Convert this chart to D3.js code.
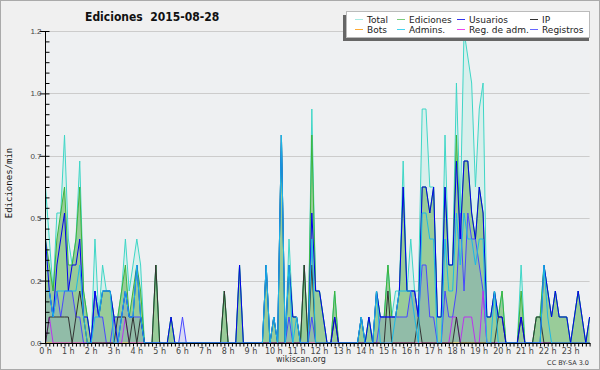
<!DOCTYPE html>
<html>
<head>
<meta charset="utf-8">
<script src="https://cdn.jsdelivr.net/npm/d3@7"></script>
<style>
  body { margin: 0; background: #f0f0f0; }
  svg { display: block; font-family: "DejaVu Sans", sans-serif; }
  .axis-label { font-size: 8px; fill: #444; }
  .legend-text { font-size: 9px; fill: #222; }
</style>
</head>
<body>
<div id="chart"></div>
<script>
// 10-minute bins, 144 per day; values are edits per minute
const hourLabels = ["0 h", "1 h", "2 h", "3 h", "4 h", "5 h", "6 h", "7 h", "8 h", "9 h", "10 h", "11 h",
  "12 h", "13 h", "14 h", "15 h", "16 h", "17 h", "18 h", "19 h", "20 h", "21 h", "22 h", "23 h"];
const yTicks = [0, 0.24, 0.48, 0.72, 0.96, 1.2];

const total = [
  .6, .4, .2, .5, .5, .8, .4, .3, .4, .7, .2, .1,
  0, .4, .1, .3, .2, .2, .1, .1, .2, .4, .2, .3,
  .4, .3, 0, 0, 0, .3, 0, 0, 0, .1, 0, 0,
  0, 0, 0, 0, 0, 0, 0, 0, 0, 0, 0, .2,
  0, 0, 0, .3, 0, 0, 0, 0, 0, 0, .3, 0,
  .1, 0, .8, 0, .4, .1, .1, 0, .3, 0, .9, .2,
  .2, .1, 0, 0, .2, 0, 0, 0, 0, 0, 0, .1,
  0, .1, 0, .2, .1, .1, .3, .1, .2, .2, .7, .2,
  .4, .2, .2, .9, .9, .6, .6, .1, .1, .8, .3, .3,
  1.0, .5, 1.2, 1.1, 1.0, .6, .9, 1.0, .1, .1, .2, .1,
  .2, 0, 0, 0, 0, .3, 0, 0, 0, .1, .1, .3,
  .2, .1, .2, .1, .1, .1, 0, .1, .2, .1, 0, .1
];
const ediciones = [
  .4, .3, .2, .4, .5, .6, .3, .3, .4, .6, .2, .1,
  0, .2, .1, .2, .2, .2, .1, .1, .2, .3, .1, .2,
  .3, .2, 0, 0, 0, .3, 0, 0, 0, .1, 0, 0,
  0, 0, 0, 0, 0, 0, 0, 0, 0, 0, 0, .2,
  0, 0, 0, .3, 0, 0, 0, 0, 0, 0, .3, 0,
  .1, 0, .8, 0, .3, .1, .1, 0, .3, 0, .8, .2,
  .2, .1, 0, 0, .2, 0, 0, 0, 0, 0, 0, .1,
  0, .1, 0, .2, .1, .1, .3, .1, .1, .2, .6, .2,
  .2, .2, .1, .6, .6, .5, .6, .1, .1, .6, .3, .3,
  .8, .4, .7, .7, .5, .4, .6, .5, .1, .1, .2, .1,
  .2, 0, 0, 0, 0, .2, 0, 0, 0, .1, .1, .3,
  .2, .1, .2, .1, .1, .1, 0, .1, .2, .1, 0, .1
];
const usuarios = [
  .4, .2, .1, .3, .4, .5, .2, .3, .3, .4, .1, .1,
  0, .2, .1, .2, .2, .2, .1, 0, .1, .2, .1, .1,
  .3, .1, 0, 0, 0, 0, 0, 0, 0, .1, 0, 0,
  0, 0, 0, 0, 0, 0, 0, 0, 0, 0, 0, 0,
  0, 0, 0, .3, 0, 0, 0, 0, 0, 0, .3, 0,
  .1, 0, .8, 0, .3, .1, .1, 0, 0, 0, .5, .2,
  .2, .1, 0, 0, .1, 0, 0, 0, 0, 0, 0, .1,
  0, .1, 0, .2, .1, .1, .1, .1, .1, .2, .6, .2,
  .2, .2, .1, .6, .6, .5, .6, .1, .1, .6, .3, .3,
  .7, .4, .7, .7, .5, .4, .6, .5, .1, .1, .2, .1,
  .1, 0, 0, 0, 0, .1, 0, 0, 0, 0, 0, .3,
  .2, .1, .2, .1, .1, .1, 0, .1, .2, .1, 0, .1
];
const ip = [
  0, .1, .1, .1, .1, .1, .1, 0, .1, .2, .1, 0,
  0, 0, 0, 0, 0, 0, 0, .1, .1, .1, 0, .1,
  0, .1, 0, 0, 0, .3, 0, 0, 0, 0, 0, 0,
  0, 0, 0, 0, 0, 0, 0, 0, 0, 0, 0, .2,
  0, 0, 0, 0, 0, 0, 0, 0, 0, 0, 0, 0,
  0, 0, 0, 0, 0, 0, 0, 0, .3, 0, .3, 0,
  0, 0, 0, 0, .1, 0, 0, 0, 0, 0, 0, 0,
  0, 0, 0, 0, 0, 0, .2, 0, 0, 0, 0, 0,
  0, 0, .1, 0, 0, 0, 0, 0, 0, 0, 0, 0,
  .1, 0, 0, 0, 0, 0, 0, 0, 0, 0, 0, .1,
  .1, 0, 0, 0, 0, .1, 0, 0, 0, .1, .1, 0,
  0, 0, 0, 0, 0, 0, 0, 0, 0, 0, 0, 0
];
const bots = Array(144).fill(0); // no bot edits that day
const admins = [
  .2, .2, .1, .2, .2, .2, .2, .2, .2, .3, .1, 0,
  0, .1, .1, .2, .2, .2, 0, 0, .1, .2, .1, .1,
  .3, .1, 0, 0, 0, 0, 0, 0, 0, 0, 0, 0,
  0, 0, 0, 0, 0, 0, 0, 0, 0, 0, 0, 0,
  0, 0, 0, 0, 0, 0, 0, 0, 0, 0, .3, 0,
  .1, 0, .8, 0, .3, 0, .1, 0, 0, 0, .4, 0,
  0, 0, 0, 0, 0, 0, 0, 0, 0, 0, 0, .1,
  0, 0, 0, .2, 0, 0, 0, 0, .1, .2, .2, .2,
  .2, .1, 0, .5, .5, .4, .4, 0, 0, .4, .2, .2,
  .5, .3, .5, .4, .4, .3, .4, .4, 0, 0, .2, 0,
  0, 0, 0, 0, 0, 0, 0, 0, 0, 0, 0, .3,
  .1, 0, 0, 0, 0, 0, 0, 0, 0, 0, 0, 0
];
const regAdm = [
  0, .1, 0, 0, 0, 0, 0, 0, 0, 0, 0, 0,
  0, 0, 0, 0, 0, 0, 0, 0, 0, .1, 0, 0,
  0, 0, 0, 0, 0, 0, 0, 0, 0, 0, 0, 0,
  0, 0, 0, 0, 0, 0, 0, 0, 0, 0, 0, 0,
  0, 0, 0, 0, 0, 0, 0, 0, 0, 0, 0, 0,
  0, 0, 0, 0, 0, 0, 0, 0, 0, 0, 0, 0,
  0, 0, 0, 0, 0, 0, 0, 0, 0, 0, 0, 0,
  0, 0, 0, 0, 0, 0, 0, 0, 0, 0, 0, 0,
  0, 0, 0, 0, 0, 0, 0, 0, 0, 0, 0, .1,
  .1, 0, .1, .1, .1, 0, 0, .2, 0, 0, 0, 0,
  0, 0, 0, 0, 0, 0, 0, 0, 0, 0, 0, 0,
  0, 0, 0, 0, 0, 0, 0, 0, 0, 0, 0, 0
];
const registros = [
  .2, .2, .1, .2, .1, .2, .2, .2, .1, .1, 0, 0,
  0, .2, .1, .1, 0, 0, .1, .1, .1, .2, .1, .1,
  .1, .1, 0, 0, 0, 0, 0, 0, 0, 0, 0, 0,
  .1, 0, 0, 0, 0, 0, 0, 0, 0, 0, 0, 0,
  0, 0, 0, 0, 0, 0, 0, 0, 0, 0, 0, 0,
  0, 0, 0, 0, .1, 0, 0, 0, 0, 0, .1, 0,
  0, 0, 0, 0, 0, 0, 0, 0, 0, 0, 0, 0,
  0, 0, 0, 0, .1, .1, .1, .1, .1, .1, .1, .1,
  .2, .2, .1, .3, .3, .1, .1, 0, 0, .2, .1, .1,
  .2, .5, .2, .5, .4, .4, .3, .2, 0, 0, 0, 0,
  0, 0, 0, 0, 0, 0, 0, 0, 0, 0, 0, 0,
  0, 0, 0, 0, 0, 0, 0, 0, 0, 0, 0, 0
];

class EditsChart {

  constructor(_config) {
    this.config = {
      parentElement: _config.parentElement,
      containerWidth: 600,
      containerHeight: 370,
      plot: {left: 45.5, right: 589.6, top: 31, bottom: 343}
    };
    // drawing order: areas first, then lines
    this.series = [
      {name: 'Total', values: total, color: '#3ed6c6', legend: '#a6eae2', fill: '#c6efe8', fillOpacity: 0.55},
      {name: 'Ediciones', values: ediciones, color: '#3cb43c', legend: '#7ccc7c', fill: '#99cc99', fillOpacity: 1},
      {name: 'Usuarios', values: usuarios, color: '#0000ee', legend: '#3333ee'},
      {name: 'IP', values: ip, color: '#333333', legend: '#333333'},
      {name: 'Bots', values: bots, color: '#ffaa33', legend: '#ffaa33'},
      {name: 'Admins.', values: admins, color: '#1cb8e6', legend: '#44d4ee'},
      {name: 'Reg. de adm.', values: regAdm, color: '#bb33ee', legend: '#ee44ee'},
      {name: 'Registros', values: registros, color: '#4848ff', legend: '#6666ff', fill: '#6666ff', fillOpacity: 0.15}
    ];
    this.initVis();
  }

  initVis() {
    let vis = this;
    const p = vis.config.plot;

    vis.xScale = d3.scaleLinear().domain([0, 143]).range([p.left, p.right]);
    vis.yScale = d3.scaleLinear().domain([0, 1.2]).range([p.bottom, p.top]);

    vis.svg = d3.select(vis.config.parentElement).append('svg')
        .attr('width', vis.config.containerWidth)
        .attr('height', vis.config.containerHeight);

    // page background and frame
    vis.svg.append('rect')
        .attr('x', 0.5).attr('y', 0.5)
        .attr('width', vis.config.containerWidth - 1)
        .attr('height', vis.config.containerHeight - 1)
        .attr('fill', '#f0f0f0')
        .attr('stroke', '#aaa');

    vis.svg.append('rect')
        .attr('x', p.left).attr('y', p.top)
        .attr('width', p.right - p.left).attr('height', p.bottom - p.top)
        .attr('fill', '#eef0f2');

    vis.svg.append('clipPath').attr('id', 'plot-clip')
      .append('rect')
        .attr('x', p.left).attr('y', p.top - 1)
        .attr('width', p.right - p.left + 1).attr('height', p.bottom - p.top + 1);

    // horizontal grid
    vis.svg.append('g')
        .selectAll('line')
        .data(yTicks.filter(d => d > 0))
        .join('line')
        .attr('x1', p.left).attr('x2', p.right)
        .attr('y1', d => Math.round(vis.yScale(d)) + 0.5)
        .attr('y2', d => Math.round(vis.yScale(d)) + 0.5)
        .attr('stroke', '#cccccc');

    vis.chart = vis.svg.append('g').attr('clip-path', 'url(#plot-clip)');

    vis.renderVis();
  }

  renderVis() {
    let vis = this;
    const p = vis.config.plot;

    const area = d3.area()
        .x((d, i) => vis.xScale(i))
        .y0(vis.yScale(0))
        .y1(d => vis.yScale(d));
    const line = d3.line()
        .x((d, i) => vis.xScale(i))
        .y(d => vis.yScale(d));

    vis.chart.selectAll('.area')
        .data(vis.series.filter(s => s.fill))
        .join('path')
        .attr('class', 'area')
        .attr('d', s => area(s.values))
        .attr('fill', s => s.fill)
        .attr('fill-opacity', s => s.fillOpacity);

    const lineOrder = ['Total', 'Ediciones', 'Bots', 'Registros', 'Reg. de adm.', 'IP', 'Usuarios', 'Admins.'];
    vis.chart.selectAll('.line')
        .data(lineOrder.map(n => vis.series.find(s => s.name === n)))
        .join('path')
        .attr('class', 'line')
        .attr('d', s => line(s.values))
        .attr('fill', 'none')
        .attr('stroke', s => s.color)
        .attr('stroke-width', 1)
        .attr('stroke-linejoin', 'round');

    // y axis: major ticks to the left, minor ticks to the right
    const yAxis = d3.axisLeft(vis.yScale)
        .tickValues(yTicks)
        .tickSize(6)
        .tickPadding(-2)
        .tickFormat(d3.format('.1f'));
    const yAxisG = vis.svg.append('g')
        .attr('transform', `translate(${p.left},0)`)
        .call(yAxis);
    yAxisG.select('.domain').remove();
    yAxisG.selectAll('line').attr('stroke', '#000');
    yAxisG.selectAll('text').attr('class', 'axis-label');

    const yMinor = d3.axisRight(vis.yScale)
        .tickValues(d3.range(0, 1.2001, 0.04))
        .tickSize(4)
        .tickFormat('');
    const yMinorG = vis.svg.append('g')
        .attr('transform', `translate(${p.left},0)`)
        .call(yMinor);
    yMinorG.select('.domain').remove();
    yMinorG.selectAll('line').attr('stroke', '#000');

    vis.svg.append('line')
        .attr('x1', p.left).attr('x2', p.left)
        .attr('y1', p.top).attr('y2', p.bottom + 1)
        .attr('stroke', '#000');

    // x axis: a tick per 10-minute bin, labels on the hours
    const xAxis = d3.axisBottom(vis.xScale)
        .tickValues(d3.range(0, 144))
        .tickSize(3)
        .tickFormat('');
    const xAxisG = vis.svg.append('g')
        .attr('transform', `translate(0,${p.bottom + 0.5})`)
        .call(xAxis);
    xAxisG.select('.domain').remove();
    xAxisG.selectAll('line').attr('stroke', '#000');

    vis.svg.append('line')
        .attr('x1', p.left).attr('x2', p.right + 1)
        .attr('y1', p.bottom + 0.5).attr('y2', p.bottom + 0.5)
        .attr('stroke', '#000');

    vis.svg.append('g')
        .selectAll('text')
        .data(hourLabels)
        .join('text')
        .attr('class', 'axis-label')
        .attr('x', (d, i) => vis.xScale(i * 6))
        .attr('y', 354)
        .attr('text-anchor', 'middle')
        .text(d => d);

    // titles
    vis.svg.append('text')
        .attr('x', 85).attr('y', 21)
        .style('font-family', '"DejaVu Sans Condensed", "DejaVu Sans", sans-serif')
        .style('font-weight', 'bold')
        .style('font-stretch', 'condensed')
        .style('font-size', '12px')
        .attr('fill', '#111')
        .attr('xml:space', 'preserve')
        .text('Ediciones  2015-08-28');

    vis.svg.append('text')
        .attr('transform', 'translate(12,183) rotate(-90)')
        .attr('text-anchor', 'middle')
        .style('font-family', '"DejaVu Sans Mono", monospace')
        .style('font-size', '9px')
        .attr('fill', '#111')
        .text('Ediciones/min');

    vis.svg.append('text')
        .attr('x', 301).attr('y', 362)
        .attr('text-anchor', 'middle')
        .style('font-size', '8px')
        .attr('fill', '#333')
        .text('wikiscan.org');

    vis.svg.append('text')
        .attr('x', 589).attr('y', 365)
        .attr('text-anchor', 'end')
        .style('font-size', '6.5px')
        .attr('fill', '#333')
        .text('CC BY-SA 3.0');

    vis.renderLegend();
  }

  renderLegend() {
    let vis = this;
    const legendOrder = ['Total', 'Ediciones', 'Usuarios', 'IP', 'Bots', 'Admins.', 'Reg. de adm.', 'Registros'];
    const colX = [355, 397, 457, 530];
    const rowY = [19.5, 29.5];

    const g = vis.svg.append('g');
    g.append('rect')
        .attr('x', 343).attr('y', 15)
        .attr('width', 246).attr('height', 26)
        .attr('fill', '#666');
    g.append('rect')
        .attr('x', 346.5).attr('y', 11.5)
        .attr('width', 243).attr('height', 26)
        .attr('fill', '#fff')
        .attr('stroke', '#bbb');

    const items = g.selectAll('.legend-item')
        .data(legendOrder.map(n => vis.series.find(s => s.name === n)))
        .join('g')
        .attr('class', 'legend-item')
        .attr('transform', (d, i) => `translate(${colX[i % 4]},${rowY[Math.floor(i / 4)]})`);

    items.append('line')
        .attr('x1', 0).attr('x2', 8)
        .attr('stroke', d => d.legend);

    items.append('text')
        .attr('class', 'legend-text')
        .attr('x', 12)
        .attr('y', 3.3)
        .text(d => d.name);
  }
}

new EditsChart({parentElement: '#chart'});
</script>
</body>
</html>
